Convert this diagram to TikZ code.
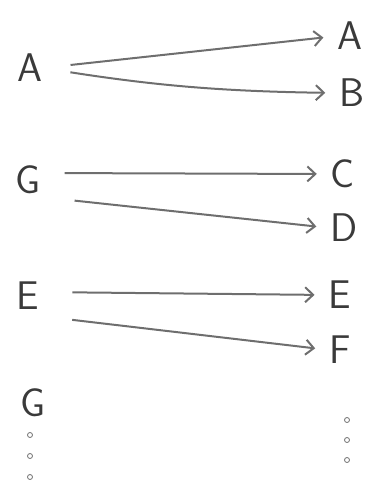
\documentclass[tikz,border=0pt]{standalone}
\usepackage{xcolor}
\usetikzlibrary{arrows.meta}
\definecolor{pencil}{HTML}{6E6E6E}
\definecolor{inkgray}{HTML}{3A3A3A}

\begin{document}
\begin{tikzpicture}[x=1pt, y=-1pt, >={Straight Barb[length=8pt,width=15pt]},
  letter/.style={text=inkgray, font=\sffamily\fontsize{40}{40}\selectfont, inner sep=0pt},
  link/.style={->, draw=pencil, line width=2pt, shorten <=28pt, shorten >=14pt},
  dot/.style={draw=pencil, line width=0.8pt}]
  \useasboundingbox (0,0) rectangle (369,498);

  % left column
  \node[letter] (lA) at (30,68) {A};
  \node[letter] (lG) at (28,180) {G};
  \node[letter] (lE) at (28,296) {E};
  \node[letter] (lG2) at (33,403) {G};

  % right column
  \node[letter] (rA) at (350,36) {A};
  \node[letter] (rB) at (352,93) {B};
  \node[letter] (rC) at (343,174) {C};
  \node[letter] (rD) at (344,228) {D};
  \node[letter] (rE) at (340,295) {E};
  \node[letter] (rF) at (340,350) {F};

  % mappings
  \draw[link] (lA.east) -- (rA.west);
  \draw[link] (lA.east) to[bend right=4] (rB.west);
  \draw[link, shorten <=24pt] ([yshift=7pt]lG.east) -- (rC.west);
  \draw[link, shorten <=34pt] ([yshift=-17pt]lG.east) -- (rD.west);
  \draw[link, shorten <=33pt] ([yshift=4pt]lE.east) -- (rE.west);
  \draw[link, shorten <=33pt] ([yshift=-20pt]lE.east) -- (rF.west);

  % continuation dots
  \foreach \y in {435,456,477} \draw[dot] (30,\y) circle (2.5);
  \foreach \y in {420,440,460} \draw[dot] (347,\y) circle (2.5);
\end{tikzpicture}
\end{document}
